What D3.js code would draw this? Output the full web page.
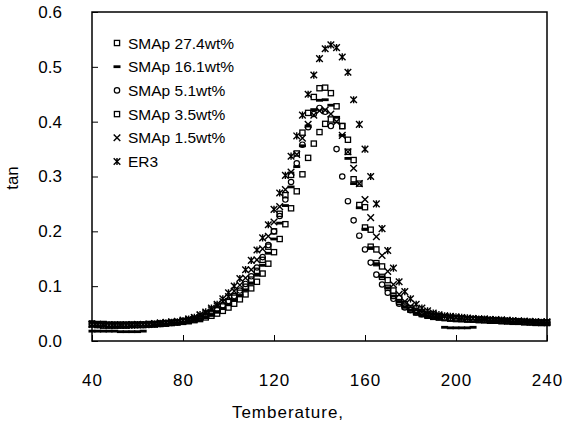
<!DOCTYPE html>
<html>
<head>
<meta charset="utf-8">
<style>
  body { margin: 0; background: #fff; }
  svg text { font-family: "Liberation Sans", Arial, sans-serif; fill: #000; }
</style>
<script src="https://cdn.jsdelivr.net/npm/d3@7"></script>
</head>
<body>
<svg id="chart" width="576" height="428"></svg>
<script>
// temperature grid (same for all runs)
const temps = [
  40, 42.5, 45, 47.5, 50, 52.5, 55, 57.5, 60, 62.5,
  65, 67.5, 70, 72.5, 75, 77.5, 80, 82.5, 85, 87.5,
  90, 92.5, 95, 97.5, 100, 102.5, 105, 107.5, 110, 112.5,
  115, 117.5, 120, 122.5, 125, 127.5, 130, 132.5, 135, 137.5,
  140, 142.5, 145, 147.5, 150, 152.5, 155, 157.5, 160, 162.5,
  165, 167.5, 170, 172.5, 175, 177.5, 180, 182.5, 185, 187.5,
  190, 192.5, 195, 197.5, 200, 202.5, 205, 207.5, 210, 212.5,
  215, 217.5, 220, 222.5, 225, 227.5, 230, 232.5, 235, 237.5,
  240
];

const smap274 = [
  0.030, 0.029, 0.028, 0.028, 0.028, 0.028, 0.028, 0.029, 0.029, 0.029,
  0.030, 0.030, 0.031, 0.032, 0.033, 0.034, 0.035, 0.037, 0.039, 0.042,
  0.046, 0.050, 0.056, 0.063, 0.071, 0.079, 0.088, 0.099, 0.112, 0.128,
  0.148, 0.172, 0.200, 0.232, 0.266, 0.303, 0.342, 0.380, 0.416, 0.445,
  0.461, 0.462, 0.452, 0.428, 0.392, 0.345, 0.295, 0.248, 0.207, 0.172,
  0.142, 0.117, 0.097, 0.082, 0.071, 0.063, 0.057, 0.052, 0.049, 0.046,
  0.044, 0.043, 0.042, 0.041, 0.040, 0.040, 0.039, 0.039, 0.038, 0.038,
  0.037, 0.037, 0.036, 0.036, 0.035, 0.035, 0.034, 0.034, 0.033, 0.033,
  0.033
];
const smap161 = [
  0.018, 0.018, 0.018, 0.018, 0.018, 0.017, 0.017, 0.017, 0.017, 0.018,
  0.027, 0.029, 0.030, 0.031, 0.032, 0.033, 0.034, 0.036, 0.038, 0.041,
  0.044, 0.048, 0.053, 0.059, 0.066, 0.074, 0.083, 0.093, 0.105, 0.120,
  0.138, 0.160, 0.186, 0.215, 0.247, 0.281, 0.318, 0.356, 0.392, 0.422,
  0.439, 0.440, 0.430, 0.408, 0.375, 0.333, 0.287, 0.243, 0.204, 0.170,
  0.141, 0.117, 0.097, 0.082, 0.071, 0.062, 0.056, 0.051, 0.048, 0.045,
  0.043, 0.042, 0.025, 0.024, 0.024, 0.024, 0.024, 0.025, 0.038, 0.038,
  0.037, 0.037, 0.036, 0.036, 0.035, 0.035, 0.034, 0.034, 0.034, 0.033,
  0.033
];
const smap51 = [
  0.031, 0.030, 0.030, 0.029, 0.029, 0.029, 0.029, 0.029, 0.029, 0.030,
  0.030, 0.031, 0.031, 0.032, 0.033, 0.034, 0.036, 0.038, 0.040, 0.043,
  0.047, 0.052, 0.058, 0.065, 0.073, 0.082, 0.092, 0.104, 0.118, 0.134,
  0.153, 0.175, 0.200, 0.228, 0.258, 0.290, 0.324, 0.358, 0.390, 0.414,
  0.425, 0.418, 0.392, 0.350, 0.300, 0.255, 0.220, 0.192, 0.167, 0.143,
  0.121, 0.103, 0.088, 0.077, 0.068, 0.061, 0.056, 0.052, 0.049, 0.047,
  0.045, 0.044, 0.043, 0.042, 0.041, 0.041, 0.040, 0.040, 0.039, 0.039,
  0.038, 0.038, 0.037, 0.037, 0.036, 0.036, 0.035, 0.035, 0.034, 0.034,
  0.034
];
const smap35 = [
  0.032, 0.031, 0.031, 0.030, 0.030, 0.030, 0.030, 0.030, 0.030, 0.030,
  0.031, 0.031, 0.032, 0.032, 0.033, 0.034, 0.035, 0.036, 0.038, 0.040,
  0.043, 0.046, 0.050, 0.055, 0.061, 0.068, 0.076, 0.085, 0.096, 0.108,
  0.123, 0.141, 0.162, 0.186, 0.213, 0.242, 0.273, 0.304, 0.334, 0.360,
  0.381, 0.396, 0.404, 0.403, 0.392, 0.367, 0.330, 0.287, 0.244, 0.203,
  0.167, 0.136, 0.111, 0.092, 0.078, 0.067, 0.060, 0.054, 0.050, 0.047,
  0.045, 0.043, 0.042, 0.041, 0.041, 0.040, 0.040, 0.039, 0.039, 0.038,
  0.038, 0.037, 0.037, 0.036, 0.036, 0.035, 0.035, 0.034, 0.034, 0.033,
  0.033
];
const smap15 = [
  0.030, 0.030, 0.029, 0.029, 0.029, 0.029, 0.029, 0.030, 0.030, 0.030,
  0.031, 0.032, 0.033, 0.034, 0.035, 0.036, 0.038, 0.040, 0.043, 0.047,
  0.051, 0.057, 0.064, 0.072, 0.081, 0.091, 0.102, 0.115, 0.130, 0.148,
  0.168, 0.191, 0.217, 0.245, 0.276, 0.308, 0.340, 0.370, 0.395, 0.412,
  0.420, 0.421, 0.414, 0.400, 0.375, 0.345, 0.315, 0.287, 0.258, 0.225,
  0.190, 0.156, 0.127, 0.103, 0.085, 0.072, 0.063, 0.057, 0.053, 0.050,
  0.048, 0.046, 0.045, 0.044, 0.043, 0.042, 0.041, 0.041, 0.040, 0.040,
  0.039, 0.039, 0.038, 0.038, 0.037, 0.037, 0.036, 0.036, 0.035, 0.035,
  0.035
];
const er3 = [
  0.031, 0.030, 0.030, 0.029, 0.029, 0.029, 0.029, 0.029, 0.030, 0.030,
  0.030, 0.031, 0.032, 0.033, 0.034, 0.035, 0.037, 0.040, 0.043, 0.048,
  0.053, 0.060, 0.067, 0.077, 0.088, 0.100, 0.114, 0.130, 0.147, 0.166,
  0.188, 0.212, 0.240, 0.270, 0.302, 0.337, 0.374, 0.412, 0.450, 0.485,
  0.515, 0.533, 0.540, 0.535, 0.518, 0.490, 0.440, 0.395, 0.350, 0.300,
  0.250, 0.205, 0.165, 0.133, 0.108, 0.090, 0.077, 0.067, 0.060, 0.055,
  0.051, 0.048, 0.046, 0.045, 0.044, 0.043, 0.042, 0.041, 0.040, 0.040,
  0.039, 0.038, 0.038, 0.037, 0.037, 0.036, 0.036, 0.035, 0.035, 0.034,
  0.034
];

const seriesNames = ["SMAp 27.4wt%", "SMAp 16.1wt%", "SMAp 5.1wt%", "SMAp 3.5wt%", "SMAp 1.5wt%", "ER3"];
const seriesValues = [smap274, smap161, smap51, smap35, smap15, er3];
const markerTypes = ["square", "dash", "circle", "square", "cross", "star"];

const xTicks = [40, 80, 120, 160, 200, 240];
const yTicks = [0, 0.1, 0.2, 0.3, 0.4, 0.5, 0.6];

let svg = d3.select("#chart")
let plotLeft = 92, plotRight = 547, plotTop = 12, plotBottom = 341

let x = d3.scaleLinear().domain([40, 240]).range([plotLeft, plotRight])
let y = d3.scaleLinear().domain([0, 0.6]).range([plotBottom, plotTop])

// draw one marker at (cx, cy)
function drawMarker(g, type, cx, cy) {
    if (type == "square") {
        g.append("rect").attr("x", cx - 2.6).attr("y", cy - 2.6)
            .attr("width", 5.2).attr("height", 5.2)
            .attr("fill", "none").attr("stroke", "#000").attr("stroke-width", 1.3)
    } else if (type == "dash") {
        g.append("rect").attr("x", cx - 3.5).attr("y", cy - 1.4)
            .attr("width", 7).attr("height", 2.8).attr("fill", "#000")
    } else if (type == "circle") {
        g.append("circle").attr("cx", cx).attr("cy", cy).attr("r", 2.7)
            .attr("fill", "none").attr("stroke", "#000").attr("stroke-width", 1.2)
    } else {
        let s = 3.3
        let p = `M${cx - s},${cy - s}L${cx + s},${cy + s}M${cx - s},${cy + s}L${cx + s},${cy - s}`
        if (type == "star") p += `M${cx},${cy - s - 0.3}L${cx},${cy + s + 0.3}`
        g.append("path").attr("d", p).attr("fill", "none")
            .attr("stroke", "#000").attr("stroke-width", 1.4)
    }
}

// points
seriesValues.forEach((vals, i) => {
    let g = svg.append("g").attr("class", "series")
    vals.forEach((v, k) => drawMarker(g, markerTypes[i], x(temps[k]), y(v)))
})

// frame
svg.append("rect").attr("x", plotLeft).attr("y", plotTop)
    .attr("width", plotRight - plotLeft).attr("height", plotBottom - plotTop)
    .attr("fill", "none").attr("stroke", "#000").attr("stroke-width", 1.5)

// axes, ticks pointing inside
let xAxis = svg.append("g").attr("transform", `translate(0,${plotBottom})`)
    .call(d3.axisBottom(x).tickValues(xTicks).tickSize(-6).tickPadding(33).tickFormat(d3.format("d")))
let yAxis = svg.append("g").attr("transform", `translate(${plotLeft},0)`)
    .call(d3.axisLeft(y).tickValues(yTicks).tickSize(-6).tickPadding(30).tickFormat(d3.format(".1f")))

svg.selectAll(".domain").remove()
svg.selectAll(".tick line").attr("stroke", "#000").attr("stroke-width", 1)
xAxis.selectAll("text").attr("font-size", 17).attr("letter-spacing", 1)
yAxis.selectAll("text").attr("font-size", 17)

// axis titles
svg.append("text").attr("x", 288).attr("y", 418)
    .attr("text-anchor", "middle").attr("font-size", 17).attr("letter-spacing", 1)
    .text("Temberature,")
svg.append("text").attr("transform", `translate(18,178) rotate(-90)`)
    .attr("text-anchor", "middle").attr("font-size", 17)
    .text("tan")

// legend
seriesNames.forEach((name, i) => {
    let ly = 43 + i * 23.7
    let g = svg.append("g").attr("class", "legend")
    drawMarker(g, markerTypes[i], 117, ly)
    g.append("text").attr("x", 128).attr("y", ly + 5.5)
        .attr("font-size", 15.5).text(name)
})
</script>
</body>
</html>
